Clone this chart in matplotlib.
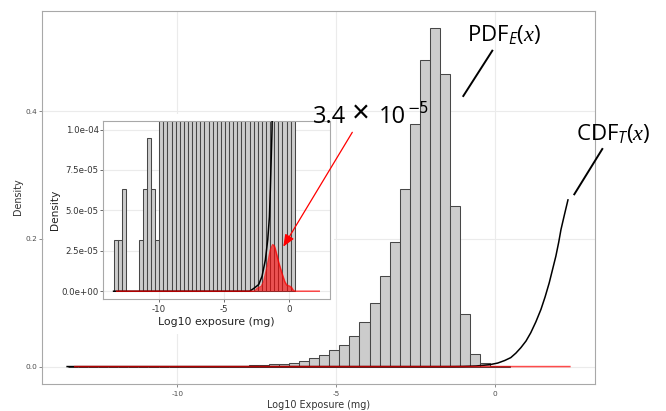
import numpy as np
import matplotlib
matplotlib.use("Agg")
import matplotlib.pyplot as plt
from matplotlib.patches import Rectangle, FancyArrowPatch
from matplotlib.lines import Line2D

# ---- data -------------------------------------------------------------
# histogram of simulated log10 exposures (counts per bin)
bin_left = -13.44
bin_width = 0.3162
bin_counts = [1, 1, 2, 0, 0, 0, 1, 2, 3, 2, 1,
              5, 8, 12, 18, 25, 32, 41, 63, 82, 114, 149, 196, 278,
              411, 569, 806, 1053, 1515, 2204,
              3162, 4477, 6175, 8790, 12047, 15178,
              16790, 14482, 7984, 2618, 642, 158, 30, 6]

# toxicity CDF curve
cdf_x = [-13.47, -3.0, -2.69, -2.31, -2.05, -1.79, -1.61, -1.48, -1.41, -1.28,
         -1.0, -0.6, -0.17, 0.08, 0.3, 0.49, 0.65, 0.81, 0.97, 1.12, 1.28,
         1.44, 1.57, 1.70, 1.80, 1.91, 2.00, 2.07, 2.18, 2.29]
cdf_y = [0, 0, 1.7e-6, 4.1e-6, 9.2e-6, 1.95e-5, 3.2e-5, 4.6e-5, 6.3e-5, 1.0e-4,
         3.0e-4, 9.0e-4, 3.0e-3, 5.5e-3, 9.5e-3, 0.014, 0.021, 0.0297, 0.040,
         0.053, 0.070, 0.0895, 0.109, 0.131, 0.151, 0.173, 0.195, 0.2145,
         0.238, 0.261]

# product PDF_E * CDF_T
prod_x = [-13.23, -2.6, -2.43, -2.1, -1.92, -1.66, -1.41, -1.23, -1.1, -1.02,
          -0.77, -0.51, -0.3, -0.15, 0.0, 0.2, 0.35, 0.5, 2.35]
prod_y = [0, 0, 1.7e-6, 3.0e-6, 6.0e-6, 1.5e-5, 2.55e-5, 2.88e-5, 2.8e-5, 2.6e-5,
          1.8e-5, 1.1e-5, 6.0e-6, 3.8e-6, 3.4e-6, 2.6e-6, 6e-7, 0, 0]

main_xticks = [-10, -5, 0]
main_yticks = [0.0, 0.2, 0.4]
main_yticklabels = ["0.0", "0.2", "0.4"]
inset_yticks = [0, 2.5e-5, 5e-5, 7.5e-5, 1e-4]
inset_yticklabels = ["0.0e+00", "2.5e-05", "5.0e-05", "7.5e-05", "1.0e-04"]

# ---- derived ----------------------------------------------------------
counts = np.array(bin_counts, dtype=float)
edges = bin_left + bin_width * np.arange(len(counts) + 1)
density = counts / (counts.sum() * bin_width)

lo = min(edges[0], cdf_x[0], prod_x[0])
hi = max(edges[-1], cdf_x[-1], prod_x[-1])
pad = 0.05 * (hi - lo)
xlim = (lo - pad, hi + pad)

# ---- style ------------------------------------------------------------
plt.rcParams["font.family"] = ["DejaVu Sans"]
plt.rcParams["mathtext.fontset"] = "custom"
plt.rcParams["mathtext.rm"] = "Open Sans"
plt.rcParams["mathtext.it"] = "Liberation Serif:italic"
plt.rcParams["mathtext.sf"] = "Open Sans:italic"

W, H = 666, 411
fig = plt.figure(figsize=(W / 100, H / 100), dpi=100)
fig.patch.set_facecolor("white")


def fx(px):
    return px / W


def fy(py):
    return 1 - py / H


def box(l, t, r, b):
    return [fx(l), fy(b), fx(r) - fx(l), fy(t) - fy(b)]


BORDER = "#A8A8A8"
GRID = "#EBEBEB"
BAR_FILL = "#CCCCCC"
BAR_EDGE = "#474747"


def style_axes(a):
    a.set_facecolor("white")
    for s in a.spines.values():
        s.set_color(BORDER)
        s.set_linewidth(0.8)
    a.grid(True, color=GRID, linewidth=0.8)
    a.set_axisbelow(True)


# ---- main panel -------------------------------------------------------
ax = fig.add_axes(box(42, 11, 595, 383.5))
style_axes(ax)
ax.bar(edges[:-1], density, width=bin_width, align="edge",
       color=BAR_FILL, edgecolor=BAR_EDGE, linewidth=0.75, zorder=2)
ax.plot(cdf_x, cdf_y, color="black", lw=1.1, zorder=3)
ax.plot(prod_x, prod_y, color="red", alpha=0.7, lw=1.1, zorder=4)
ax.set_xlim(*xlim)
top = density.max()
ax.set_ylim(-0.05 * top, 1.05 * top)
ax.set_xticks(main_xticks)
ax.set_xticklabels([str(t) for t in main_xticks])
ax.set_yticks(main_yticks)
ax.set_yticklabels(main_yticklabels)
ax.tick_params(axis="both", length=2.2, width=0.6, color="#777777",
               labelsize=5.3, labelcolor="#4D4D4D")
ax.tick_params(axis="x", pad=3)
ax.tick_params(axis="y", pad=1)
fig.text(fx(318.5), fy(404.5), "Log10 Exposure (mg)", ha="center", va="center",
         fontsize=6.9, color="#333333")
fig.text(fx(18), fy(197), "Density", ha="center", va="center", rotation=90,
         fontsize=6.9, color="#333333")

# ---- inset background & panel ----------------------------------------
fig.add_artist(Rectangle((fx(44), fy(334)), fx(334) - fx(44), fy(114) - fy(334),
                         transform=fig.transFigure, facecolor="white",
                         edgecolor="none", zorder=1))

axi = fig.add_axes(box(103.3, 121.5, 329.5, 299.3), zorder=2)
style_axes(axi)
axi.bar(edges[:-1], density, width=bin_width, align="edge",
        color=BAR_FILL, edgecolor=BAR_EDGE, linewidth=0.75, zorder=2)
axi.plot(cdf_x, cdf_y, color="black", lw=1.1, zorder=3)
axi.fill_between(prod_x, 0, prod_y, color="red", alpha=0.6, lw=0, zorder=4)
axi.plot(prod_x, prod_y, color="red", alpha=0.7, lw=1.1, zorder=5)
axi.set_xlim(*xlim)
axi.set_ylim(-0.05e-4, 1.05e-4)
axi.set_xticks(main_xticks)
axi.set_xticklabels([str(t) for t in main_xticks])
axi.set_yticks(inset_yticks)
axi.set_yticklabels(inset_yticklabels)
axi.tick_params(axis="both", length=2.2, width=0.6, color="#555555",
                labelsize=6.2, labelcolor="#333333")
axi.tick_params(axis="x", pad=2.2)
axi.tick_params(axis="y", pad=1)
fig.text(fx(216.5), fy(322), "Log10 exposure (mg)", ha="center", va="center",
         fontsize=7.8, color="#222222")
fig.text(fx(55), fy(210), "Density", ha="center", va="center", rotation=90,
         fontsize=7.6, color="#222222")

# ---- annotations ------------------------------------------------------
fig.text(fx(466.7), fy(40.5), r"PDF$_{\mathsf{E}}(x)$", family="Open Sans",
         fontsize=16, ha="left", va="baseline", zorder=6)
fig.add_artist(Line2D([fx(492.3), fx(463.3)], [fy(50.7), fy(96)],
                      transform=fig.transFigure, color="black", lw=1.4, zorder=6))

fig.text(fx(576), fy(140), r"CDF$_{\mathsf{T}}(x)$", family="Open Sans",
         fontsize=16, ha="left", va="baseline", zorder=6)
fig.add_artist(Line2D([fx(602.3), fx(574.3)], [fy(149), fy(194.3)],
                      transform=fig.transFigure, color="black", lw=1.4, zorder=6))

# integrated risk label, set piece by piece: mantissa, times sign, base, exponent
risk_pieces = [
    ("3.4", 313, 123, "Open Sans", 17),
    ("\u00d7", 352, 122.5, "Liberation Sans", 22),
    ("10", 378.5, 123, "Open Sans", 17),
    ("\u22125", 407, 113, "DejaVu Sans", 10.5),
]
for txt, px, py, fam, size in risk_pieces:
    fig.text(fx(px), fy(py), txt, family=fam, fontsize=size,
             ha="left", va="baseline", zorder=6)

fig.add_artist(FancyArrowPatch((fx(352.3), fy(132.3)), (fx(283.3), fy(246.7)),
                               transform=fig.transFigure,
                               arrowstyle="-|>,head_length=0.6,head_width=0.25",
                               mutation_scale=12, color="red", lw=0.9,
                               shrinkA=0, shrinkB=0, zorder=6))

fig.savefig("out.png", dpi=100, facecolor="white")
